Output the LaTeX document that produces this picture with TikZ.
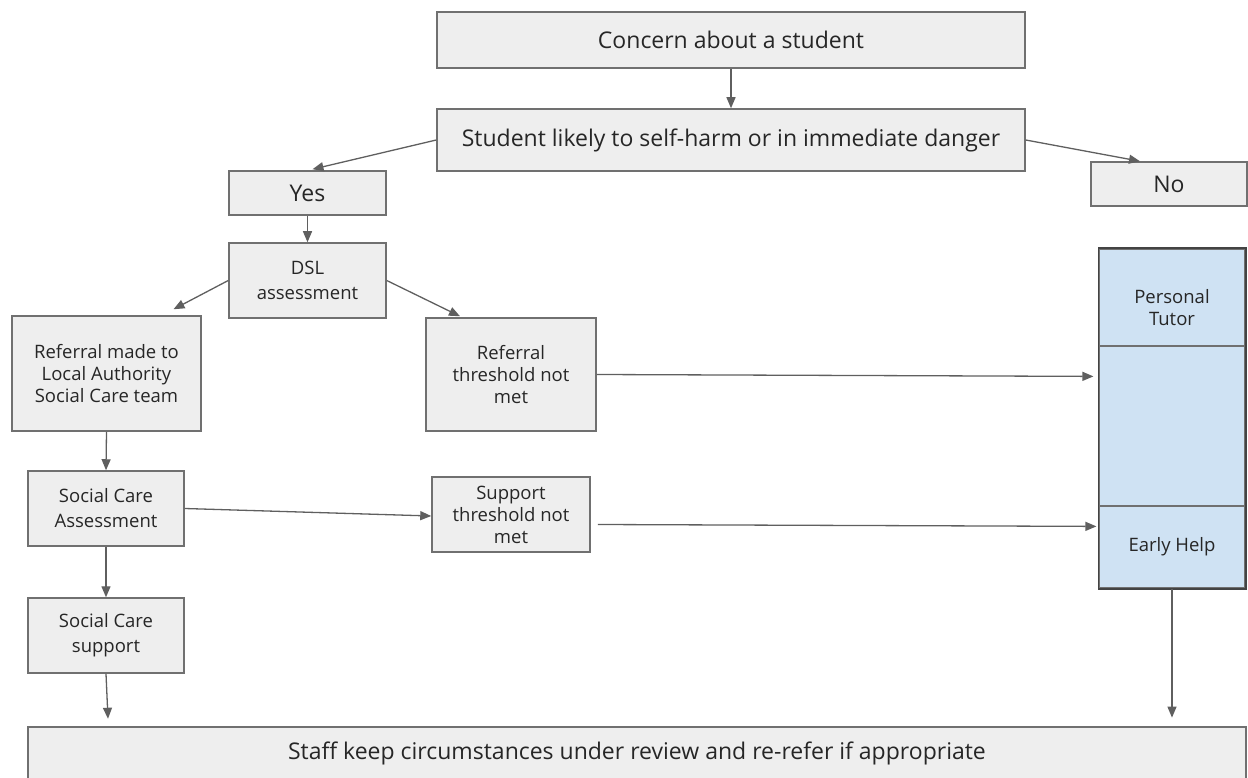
\documentclass[tikz,border=0pt]{standalone}
\usepackage{fontspec}
\setmainfont{Open Sans}
\usetikzlibrary{arrows.meta,calc}
\definecolor{boxfill}{HTML}{EEEEEE}
\definecolor{boxline}{HTML}{707070}
\definecolor{bluefill}{HTML}{CFE2F3}
\definecolor{blueline}{HTML}{434343}
\definecolor{arrcol}{HTML}{5F5F5F}
\tikzset{
  gbox/.style={draw=boxline, fill=boxfill, line width=1.5pt, inner sep=0pt, align=center, text=black!85},
  bigtxt/.style={font=\fontsize{23}{27}\selectfont},
  smalltxt/.style={font=\fontsize{18.5}{22}\selectfont},
  widetxt/.style={font=\fontsize{18.5}{25}\selectfont},
  cell/.style={draw=boxline, fill=bluefill, line width=1.2pt, inner sep=0pt, align=center, minimum width=146pt, text=black!85, font=\fontsize{18.5}{22}\selectfont},
  arr/.style={draw=arrcol, line width=1.3pt, -{Triangle[length=11pt,width=9pt]}},
}
\begin{document}
\begin{tikzpicture}[x=1pt,y=-1pt]
\useasboundingbox (0,0) rectangle (1248,778);
\begin{scope}
\clip (0,0) rectangle (1248,778);
% top boxes
\node[gbox,bigtxt,minimum width=588pt,minimum height=56pt] (concern) at (731,40) {Concern about a student};
\node[gbox,bigtxt,minimum width=588pt,minimum height=62pt] (danger) at (731,140) {Student likely to self-harm or in immediate danger};
\node[gbox,bigtxt,minimum width=157pt,minimum height=44pt] (yes) at (307.5,193) {Yes};
\node[gbox,bigtxt,minimum width=156pt,minimum height=44pt] (no) at (1169,184) {No};
\node[gbox,widetxt,minimum width=157pt,minimum height=75pt] (dsl) at (307.5,280.5) {DSL\\assessment};
\node[gbox,smalltxt,minimum width=189pt,minimum height=115pt] (refmade) at (106.5,373.5) {Referral made to\\Local Authority\\Social Care team};
\node[gbox,smalltxt,minimum width=170pt,minimum height=113pt] (refthresh) at (511,374.5) {Referral\\threshold not\\met};
\node[gbox,widetxt,minimum width=156pt,minimum height=75pt] (sca) at (106,508.5) {Social Care\\Assessment};
\node[gbox,smalltxt,minimum width=158pt,minimum height=75pt] (support) at (511,514.5) {Support\\threshold not\\met};
\node[gbox,widetxt,minimum width=156pt,minimum height=75pt] (scs) at (106,635.5) {Social Care\\support};
\node[gbox,bigtxt,minimum width=1218pt,minimum height=52pt] (staff) at (637,753) {Staff keep circumstances under review and re-refer if appropriate};
% right column
\node[cell,minimum height=97pt,label={[cell,draw=none,fill=none,yshift=-10pt]center:Personal\\Tutor}] (tutor) at (1172,297.5) {};
\node[cell,minimum height=160pt] (mid) at (1172,426) {};
\node[cell,minimum height=82pt] (early) at (1172,547) {Early Help};
\draw[draw=blueline,line width=1.8pt] (tutor.north west) rectangle (early.south east);
% connectors
\draw[arr] (concern.south) -- (danger.north);
\draw[arr] (danger.west) -- ($(yes.north)+(5,-1)$);
\draw[arr] (danger.east) -- ($(no.north)+(-29,0)$);
\draw[arr] (yes.south) -- (dsl.north);
\draw[arr] (dsl.west) -- ($(refmade.north)+(67,-6)$);
\draw[arr] (dsl.east) -- ($(refthresh.north)+(-51,-1)$);
\draw[arr] (refthresh.east) -- ($(mid.north west)+(-5,31)$);
\draw[arr] (refmade.south) -- (sca.north);
\draw[arr] (sca.east) -- ($(support.west)+(0,1.5)$);
\draw[arr] ($(support.east)+(7,10)$) -- ($(early.north west)+(-2,21)$);
\draw[arr] (sca.south) -- (scs.north);
\draw[arr] (scs.south) -- ($(scs.south)+(2,45)$);
\draw[arr] (early.south) -- ($(early.south)+(0,129)$);
\end{scope}
\end{tikzpicture}
\end{document}
